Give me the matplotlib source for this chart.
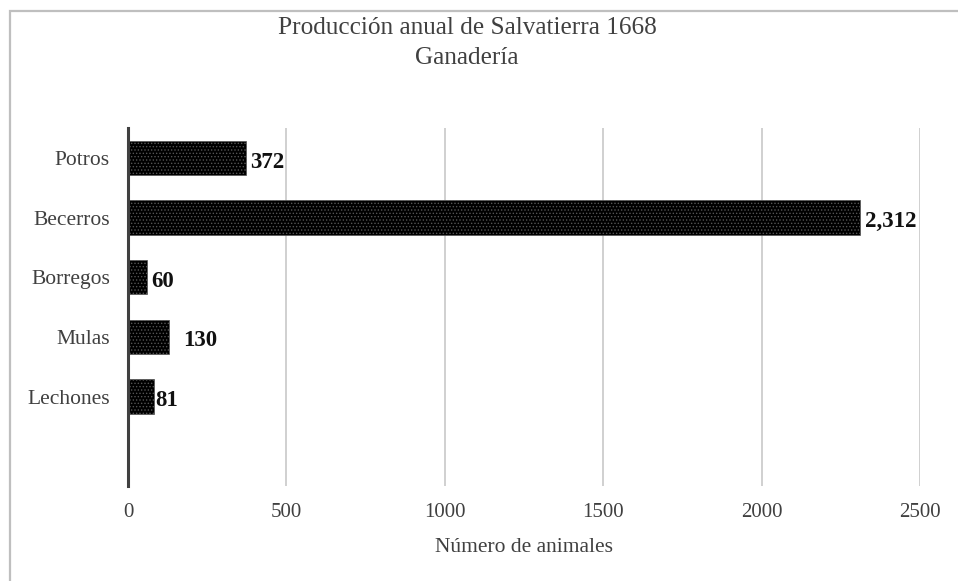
import matplotlib.pyplot as plt
import matplotlib.patches as mpatches
import numpy as np

plt.rcParams['font.family'] = ['Liberation Serif', 'DejaVu Serif']
plt.rcParams['hatch.color'] = 'white'
plt.rcParams['hatch.linewidth'] = 0.6

categories = ['Potros', 'Becerros', 'Borregos', 'Mulas', 'Lechones']
values = [372, 2312, 60, 130, 81]
value_labels = ['372', '2,312', '60', '130', '81']
xticks = [0, 500, 1000, 1500, 2000, 2500]

# horizontal nudge (points) of each data label, as placed in the original
label_dx = [3, 3, 3, 10, 1]

fig = plt.figure(figsize=(9.58, 5.81), dpi=100)
ax = fig.add_axes([128 / 958, 1 - 486 / 581, (920 - 128) / 958, (486 - 128) / 581])

y = np.arange(len(categories))
bars = ax.barh(y, values, height=0.57, color='black', edgecolor='#555555',
               linewidth=0.5, hatch='.....', zorder=3)

for bar, lab, dx in zip(bars, value_labels, label_dx):
    ax.annotate(lab, (bar.get_width(), bar.get_y() + bar.get_height() / 2),
                xytext=(dx, -3), textcoords='offset points', ha='left', va='center',
                fontsize=16.5, fontweight='bold', color='#111111')

ax.set_ylim(5.5, -0.5)
ax.set_xlim(0, 2500)
ax.set_yticks(y)
ax.set_yticklabels(categories, fontsize=15.5, color='#404040')
ax.set_xticks(xticks)
ax.set_xticklabels([str(t) for t in xticks], fontsize=15, color='#404040')
ax.tick_params(length=0)
ax.tick_params(axis='x', pad=12)
ax.tick_params(axis='y', pad=13)
ax.grid(axis='x', color='#c8c8c8', linewidth=1.2, zorder=0)
for s in ['top', 'right', 'bottom']:
    ax.spines[s].set_visible(False)
ax.spines['left'].set_color('#404040')
ax.spines['left'].set_linewidth(2.2)
ax.spines['left'].set_zorder(4)

ax.set_xlabel('Número de animales', fontsize=15.5, color='#404040', labelpad=12)
fig.text(467 / 958, 1 - 28 / 581, 'Producción anual de Salvatierra 1668', ha='center',
         va='center', fontsize=18.2, color='#404040')
fig.text(467 / 958, 1 - 58 / 581, 'Ganadería', ha='center', va='center',
         fontsize=18.2, color='#404040')

fig.patches.append(mpatches.Rectangle((10 / 958, -0.1), 1.1, 1 - 11 / 581 + 0.1,
                                      transform=fig.transFigure, fill=False,
                                      edgecolor='#bfbfbf', linewidth=1.6))

fig.savefig('out.png', dpi=100)
